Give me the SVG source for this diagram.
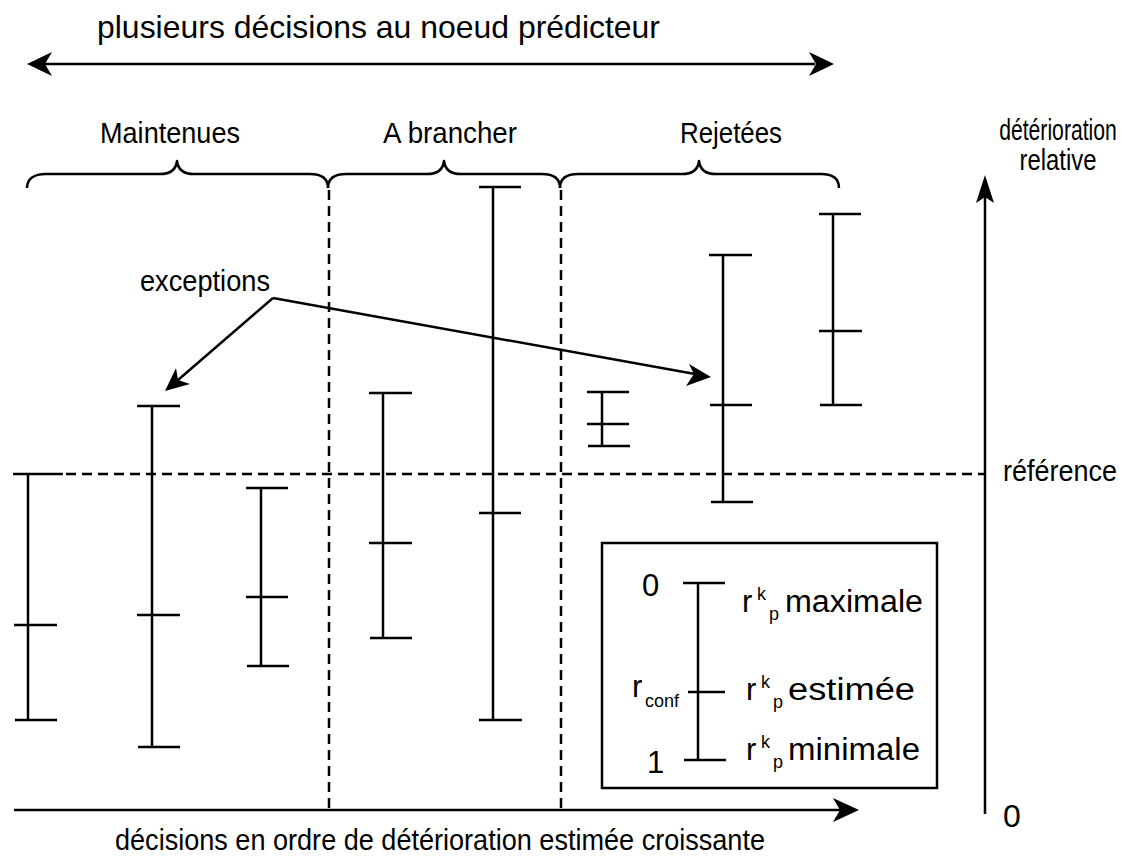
<svg xmlns="http://www.w3.org/2000/svg" width="1126" height="867" viewBox="0 0 1126 867">
  <style>
    .ln { stroke: #000; stroke-width: 2.5; fill: none; }
    .dash { stroke: #000; stroke-width: 2.5; fill: none; stroke-dasharray: 10 6; }
    .brace { stroke: #000; stroke-width: 2.5; fill: none; stroke-linejoin: round; }
    .head { fill: #000; stroke: none; }
    text { font-family: "Liberation Sans", Arial, Helvetica, sans-serif; fill: #000; }
    .lbl { font-size: 29px; }
    .big { font-size: 32px; }
    .leg { font-size: 31px; }
    .sm { font-size: 18px; }
  </style>
  <rect width="1126" height="867" fill="#fff"/>

  <!-- span of the decisions -->
  <g id="title">
    <text class="big" x="97" y="38" textLength="563" lengthAdjust="spacingAndGlyphs">plusieurs décisions au noeud prédicteur</text>
  </g>

  <!-- groups of decisions -->
  <g id="groups">
    <text class="lbl" x="100" y="143" textLength="140" lengthAdjust="spacingAndGlyphs">Maintenues</text>
    <text class="lbl" x="383" y="143" textLength="134" lengthAdjust="spacingAndGlyphs">A brancher</text>
    <text class="lbl" x="680" y="143" textLength="102" lengthAdjust="spacingAndGlyphs">Rejetées</text>
    <path class="brace" d="M27,188 C27,179 34,174 46,174 L160,174 C170,174 176,170 177,161 C178,170 184,174 194,174 L310,174 C322,174 328,179 328,188"/>
    <path class="brace" d="M328,188 C328,179 334,174 346,174 L427,174 C437,174 443,170 444,161 C445,170 451,174 461,174 L542,174 C554,174 560,179 560,188"/>
    <path class="brace" d="M560,188 C560,179 566,174 578,174 L682,174 C692,174 698,170 699,161 C700,170 706,174 716,174 L821,174 C833,174 839,179 839,188"/>
  </g>

  <!-- vertical axis labels -->
  <g id="axis-labels">
    <text class="lbl" text-anchor="middle" transform="translate(1058,140) scale(0.73,1)">détérioration</text>
    <text class="lbl" x="1058" y="170" text-anchor="middle" textLength="77" lengthAdjust="spacingAndGlyphs">relative</text>
    <text class="lbl" x="1003" y="481" textLength="114" lengthAdjust="spacingAndGlyphs">référence</text>
    <text class="big" x="1003" y="827">0</text>
    <text class="lbl" x="115" y="850" textLength="650" lengthAdjust="spacingAndGlyphs">décisions en ordre de détérioration estimée croissante</text>
  </g>

  <g id="exceptions">
    <text class="lbl" x="140" y="291" textLength="130" lengthAdjust="spacingAndGlyphs">exceptions</text>
  </g>

  <!-- connectors: axes, separators, reference line, pointers -->
  <g id="connectors">
    <line class="ln" x1="45" y1="64" x2="815" y2="64"/>
    <path class="head" d="M27,64 L52,52 L45,64 L52,76 Z"/>
    <path class="head" d="M834,64 L809,52 L816,64 L809,76 Z"/>

    <line class="ln" x1="14" y1="810" x2="840" y2="810"/>
    <path class="head" d="M859,810 L833,798 L840,810 L833,822 Z"/>

    <line class="ln" x1="985" y1="814" x2="985" y2="195"/>
    <path class="head" d="M985,175 L976,203 L985,197 L994,203 Z"/>

    <line class="dash" x1="329" y1="190" x2="329" y2="810"/>
    <line class="dash" x1="561" y1="190" x2="561" y2="810"/>
    <line class="dash" x1="66" y1="474" x2="985" y2="474"/>

    <line class="ln" x1="273" y1="298" x2="178" y2="380"/>
    <path class="head" d="M165,391 L176,368 L178,380 L190,384 Z"/>
    <line class="ln" x1="273" y1="298" x2="695" y2="374"/>
    <path class="head" d="M711,377 L686,386 L694,374 L689,364 Z"/>
  </g>

  <!-- estimated deterioration intervals -->
  <g id="bar1">
    <line class="ln" x1="28" y1="474" x2="28" y2="720"/>
    <line class="ln" x1="13" y1="474" x2="63" y2="474"/>
    <line class="ln" x1="14" y1="625" x2="57" y2="625"/>
    <line class="ln" x1="15" y1="720" x2="57" y2="720"/>
  </g>
  <g id="bar2">
    <line class="ln" x1="152" y1="406" x2="152" y2="747"/>
    <line class="ln" x1="137" y1="406" x2="180" y2="406"/>
    <line class="ln" x1="137" y1="615" x2="180" y2="615"/>
    <line class="ln" x1="138" y1="747" x2="180" y2="747"/>
  </g>
  <g id="bar3">
    <line class="ln" x1="261" y1="488" x2="261" y2="666"/>
    <line class="ln" x1="246" y1="488" x2="288" y2="488"/>
    <line class="ln" x1="246" y1="597" x2="288" y2="597"/>
    <line class="ln" x1="247" y1="666" x2="289" y2="666"/>
  </g>
  <g id="bar4">
    <line class="ln" x1="383" y1="393" x2="383" y2="638"/>
    <line class="ln" x1="369" y1="393" x2="412" y2="393"/>
    <line class="ln" x1="369" y1="543" x2="412" y2="543"/>
    <line class="ln" x1="370" y1="638" x2="412" y2="638"/>
  </g>
  <g id="bar5">
    <line class="ln" x1="493" y1="187" x2="493" y2="720"/>
    <line class="ln" x1="479" y1="187" x2="521" y2="187"/>
    <line class="ln" x1="479" y1="513" x2="521" y2="513"/>
    <line class="ln" x1="479" y1="720" x2="522" y2="720"/>
  </g>
  <g id="bar6">
    <line class="ln" x1="602" y1="392" x2="602" y2="446"/>
    <line class="ln" x1="587" y1="392" x2="629" y2="392"/>
    <line class="ln" x1="587" y1="424" x2="629" y2="424"/>
    <line class="ln" x1="588" y1="446" x2="630" y2="446"/>
  </g>
  <g id="bar7">
    <line class="ln" x1="723" y1="255" x2="723" y2="502"/>
    <line class="ln" x1="709" y1="255" x2="752" y2="255"/>
    <line class="ln" x1="710" y1="405" x2="752" y2="405"/>
    <line class="ln" x1="711" y1="502" x2="753" y2="502"/>
  </g>
  <g id="bar8">
    <line class="ln" x1="833" y1="214" x2="833" y2="405"/>
    <line class="ln" x1="819" y1="214" x2="861" y2="214"/>
    <line class="ln" x1="819" y1="331" x2="862" y2="331"/>
    <line class="ln" x1="820" y1="405" x2="862" y2="405"/>
  </g>

  <!-- key -->
  <g id="legend">
    <rect x="602" y="543" width="335" height="245" fill="#fff" stroke="#000" stroke-width="2.5"/>
    <line class="ln" x1="698" y1="583" x2="698" y2="760"/>
    <line class="ln" x1="683" y1="583" x2="725" y2="583"/>
    <line class="ln" x1="688" y1="692" x2="725" y2="692"/>
    <line class="ln" x1="684" y1="760" x2="726" y2="760"/>
    <text class="leg" x="642" y="596">0</text>
    <text class="leg" x="647" y="773">1</text>
    <text class="leg" x="632" y="697">r</text>
    <text class="sm" x="645" y="707">conf</text>
    <text class="leg" x="742" y="612">r</text>
    <text class="sm" x="757" y="600">k</text>
    <text class="sm" x="769" y="620">p</text>
    <text class="leg" x="785" y="612" textLength="138" lengthAdjust="spacingAndGlyphs">maximale</text>
    <text class="leg" x="746" y="700">r</text>
    <text class="sm" x="761" y="688">k</text>
    <text class="sm" x="773" y="708">p</text>
    <text class="leg" x="788" y="700" textLength="127" lengthAdjust="spacingAndGlyphs">estimée</text>
    <text class="leg" x="746" y="760">r</text>
    <text class="sm" x="761" y="748">k</text>
    <text class="sm" x="773" y="768">p</text>
    <text class="leg" x="788" y="760" textLength="132" lengthAdjust="spacingAndGlyphs">minimale</text>
  </g>
</svg>
